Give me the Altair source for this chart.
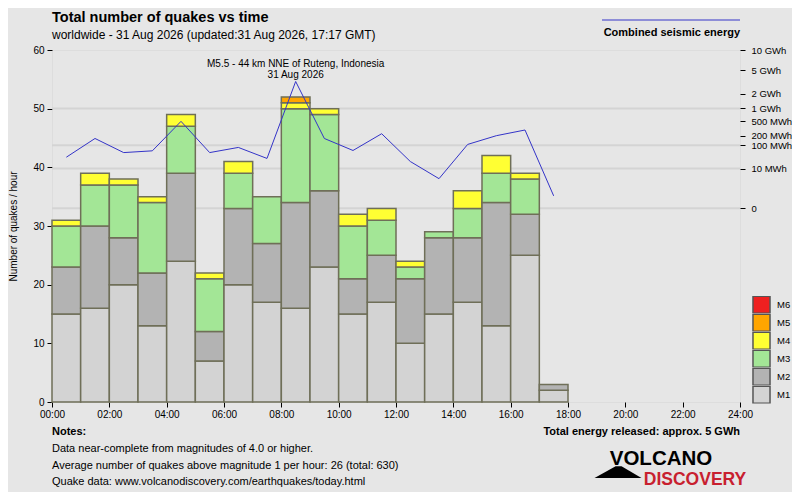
import altair as alt
import pandas as pd

# ---- data ----
hours = list(range(18))
m1 = [15, 16, 20, 13, 24, 7, 20, 17, 16, 23, 15, 17, 10, 15, 17, 13, 25, 2]
m2 = [8, 14, 8, 9, 15, 5, 13, 10, 18, 13, 6, 8, 11, 13, 11, 21, 7, 1]
m3 = [7, 7, 9, 12, 8, 9, 6, 8, 16, 13, 9, 6, 2, 1, 5, 5, 6, 0]
m4 = [1, 2, 1, 1, 2, 1, 2, 0, 1, 1, 2, 2, 1, 0, 3, 3, 1, 0]
m5 = [0, 0, 0, 0, 0, 0, 0, 0, 1, 0, 0, 0, 0, 0, 0, 0, 0, 0]
m6 = [0] * 18
mags = ["M1", "M2", "M3", "M4", "M5", "M6"]
mag_colors = ["#d3d3d3", "#b3b3b3", "#a3e696", "#ffff33", "#ffa500", "#ee2020"]

# combined seismic energy per hour, in GWh (plotted at the middle of each hour)
energy_mid = [h + 0.5 for h in hours]
energy_gwh = [0.035, 0.167, 0.054, 0.063, 0.50, 0.054, 0.084, 0.031, 3.3,
              0.167, 0.065, 0.232, 0.0225, 0.0023, 0.107, 0.203, 0.296, 0.00003]

energy_ticks = [0, 0.01, 0.1, 0.2, 0.5, 1, 2, 5, 10]
energy_grid = [0, 0.01, 0.1, 1]
hour_ticks = list(range(25))
count_ticks = [0, 10, 20, 30, 40, 50, 60]

event_hour = [8.5]
event_label = ["M5.5 - 44 km NNE of Ruteng, Indonesia", "31 Aug 2026"]

title_text = "Total number of quakes vs time"
subtitle_text = "worldwide - 31 Aug 2026 (updated:31 Aug 2026, 17:17 GMT)"
energy_legend_text = "Combined seismic energy"
notes_title = "Notes:"
notes_lines = [
    "Data near-complete from magnitudes of 4.0 or higher.",
    "Average number of quakes above magnitude 1 per hour: 26 (total: 630)",
    "Quake data: www.volcanodiscovery.com/earthquakes/today.html",
]
total_text = "Total energy released: approx. 5 GWh"
logo_top = "VOLCANO"
logo_bottom = "DISCOVERY"

FONT = "Liberation Sans"
W, H = 688, 352

# ---- tables ----
rows = []
for i, h in enumerate(hours):
    for k, (name, vals) in enumerate(zip(mags, [m1, m2, m3, m4, m5, m6])):
        if vals[i] > 0:
            rows.append({"hour": h, "hour_end": h + 1, "mag": name, "ord": k, "count": vals[i]})
bars_df = pd.DataFrame(rows)
energy_df = pd.DataFrame({"mid": energy_mid, "gwh": energy_gwh})
grid_df = pd.DataFrame({"gwh": energy_grid})
event_df = pd.DataFrame({"x": event_hour})
one = pd.DataFrame({"k": [0]})

energy_scale = alt.Scale(type="pow", exponent=0.2, domain=[-27.44, 10], nice=False, zero=False)
x_scale = alt.Scale(domain=[0, 24], nice=False, zero=False)

grid = alt.Chart(grid_df).mark_rule(color="#d4d4d4", strokeWidth=2).encode(
    y=alt.Y("gwh:Q", scale=energy_scale, axis=None)
)

bars = alt.Chart(bars_df).transform_stack(
    stack="count", as_=["c0", "c1"], groupby=["hour"], sort=[alt.SortField("ord", order="ascending")]
).mark_rect(stroke="#6f6f58", strokeWidth=1.5, opacity=1).encode(
    x=alt.X("hour:Q", scale=x_scale, title=None,
            axis=alt.Axis(values=hour_ticks, labelExpr="datum.value % 2 == 0 ? (datum.value < 10 ? '0' : '') + datum.value + ':00' : ''",
                          grid=False, domain=False, tickSize=5, tickColor="black", labelFontSize=10,
                          labelColor="black", labelPadding=2, labelFlush=False, labelOverlap=False)),
    x2="hour_end:Q",
    y=alt.Y("c0:Q", scale=alt.Scale(domain=[0, 60], nice=False),
            title="Number of quakes / hour",
            axis=alt.Axis(orient="left", values=count_ticks, grid=False, domain=False, tickSize=5,
                          tickColor="black", labelFontSize=10, labelColor="black", labelPadding=3,
                          titleFontSize=10, titleFontWeight="normal", titleColor="black", titlePadding=14)),
    y2="c1:Q",
    color=alt.Color("mag:N", scale=alt.Scale(domain=mags[::-1], range=mag_colors[::-1]),
                    legend=alt.Legend(title=None, orient="none", legendX=700, legendY=246,
                                      symbolType="square", symbolSize=290, symbolStrokeColor="#555555",
                                      symbolStrokeWidth=1.5, symbolOpacity=1, rowPadding=0, padding=0,
                                      clipHeight=17.6, labelFontSize=9.5, labelOffset=6, labelColor="black")),
)

line = alt.Chart(energy_df).mark_line(color="#3434c8", strokeWidth=1).encode(
    x=alt.X("mid:Q", scale=x_scale),
    y=alt.Y("gwh:Q", scale=energy_scale, title=None,
            axis=alt.Axis(orient="right", values=energy_ticks, grid=False, domain=False, tickSize=5,
                          tickColor="black", labelFontSize=9.5, labelColor="black", labelPadding=6,
                          labelOverlap=False,
                          labelExpr="datum.value == 0 ? '0' : (datum.value >= 1 ? datum.value + ' GWh' : round(datum.value * 1000) + ' MWh')")),
)

event = alt.Chart(event_df).mark_text(text=event_label, font=FONT, fontSize=10, lineHeight=11,
                                      align="center", baseline="top", color="black").encode(
    x=alt.X("x:Q", scale=x_scale), y=alt.value(9)
)

def label(text, x, y, size=11, weight="normal", align="left", baseline="middle", color="black", font=FONT, **kw):
    return alt.Chart(one).mark_text(text=text, font=font, fontSize=size, fontWeight=weight, align=align,
                                    baseline=baseline, color=color, **kw).encode(
        x=alt.value(x), y=alt.value(y))

title = label(title_text, 0, -28, size=14.5, weight="bold", baseline="alphabetic")
subtitle = label(subtitle_text, 0, -15, size=12)
leg_line = alt.Chart(one).mark_rule(color="#3434c8", strokeWidth=1).encode(
    x=alt.value(550), x2=alt.value(688), y=alt.value(-30))
leg_text = label(energy_legend_text, 688, -17, size=11, weight="bold", align="right")
notes_t = label(notes_title, 0, 382, size=11, weight="bold")
notes_b = label(notes_lines, 0, 393, size=11, baseline="top", lineHeight=16.5)
total_t = label(total_text, 688, 382, size=11, weight="bold", align="right")

mountain = alt.Chart(one).mark_point(shape="M-1,0.25L1,0.25L0.15,-0.25L-0.1,-0.25Z", filled=True,
                                     color="black", opacity=1, size=2209).encode(
    x=alt.value(566), y=alt.value(422))
logo1 = label(logo_top, 609, 415, size=20.5, weight="bold", align="center", baseline="alphabetic")
logo2 = label(logo_bottom, 643, 435, size=17.5, weight="bold", align="center", color="#c8202f",
              baseline="alphabetic")

chart = alt.layer(
    grid, bars, line, event, title, subtitle, leg_line, leg_text, notes_t, notes_b, total_t,
    mountain, logo1, logo2
).resolve_scale(y="independent").properties(
    width=W, height=H,
    autosize=alt.AutoSizeParams(type="none"),
    padding={"left": 44, "top": 42, "right": 52, "bottom": 90},
    background="#e6e6e6",
).configure_view(stroke="black", strokeWidth=1, fill="#e6e6e6").configure(font=FONT)

chart.save("out.html", embed_options={"renderer": "svg", "actions": False})
